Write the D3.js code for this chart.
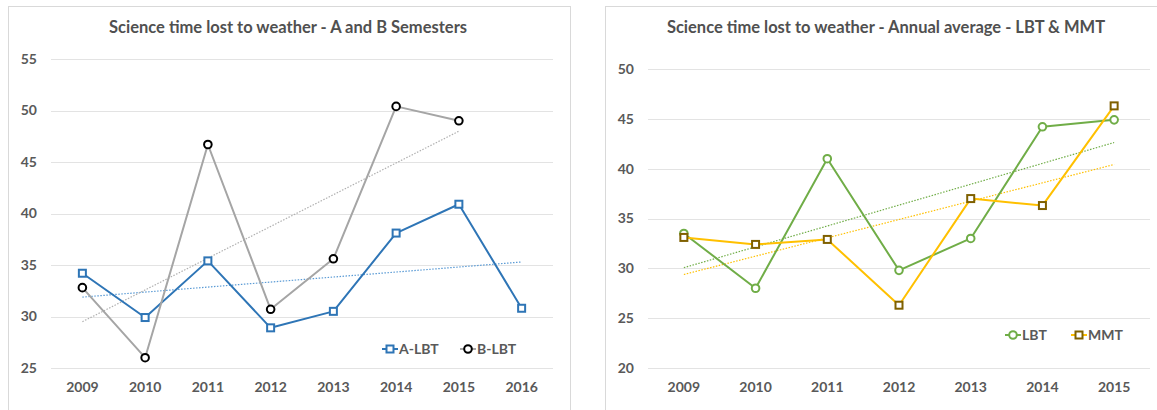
<!DOCTYPE html>
<html><head><meta charset="utf-8">
<script src="https://cdn.jsdelivr.net/npm/d3@7"></script>
<style>
html,body{margin:0;padding:0;background:#fff;}
svg text{font-family:Lato,"Open Sans",sans-serif;}
</style></head>
<body><svg id="c" width="1157" height="410"></svg>
<script>
// ---- data ----
const yearsLeft = ["2009","2010","2011","2012","2013","2014","2015","2016"];
const aLBT = [34.2, 29.9, 35.4, 28.9, 30.5, 38.1, 40.9, 30.8];
const bLBT = [32.8, 26.0, 46.7, 30.7, 35.6, 50.4, 49.0];
const ticksLeft = [25, 30, 35, 40, 45, 50, 55];

const yearsRight = ["2009","2010","2011","2012","2013","2014","2015"];
const lbtAnnual = [33.5, 28.0, 41.0, 29.8, 33.0, 44.2, 44.9];
const mmtAnnual = [33.1, 32.4, 32.9, 26.3, 37.0, 36.3, 46.3];
const ticksRight = [20, 25, 30, 35, 40, 45, 50];

const titleLeft = "Science time lost to weather - A and B Semesters";
const titleRight = "Science time lost to weather - Annual average - LBT & MMT";

const svg = d3.select("#c");
const TXT = "#595959";

function linreg(vals){
  const n = vals.length, mx = (n-1)/2, my = d3.mean(vals);
  let sxy=0, sxx=0;
  vals.forEach((v,i)=>{sxy+=(i-mx)*(v-my); sxx+=(i-mx)*(i-mx);});
  const b = sxy/sxx, a = my - b*mx;
  return [a, a + b*(n-1)];
}

function drawPanel(cfg){
  const g = svg.append("g");
  g.append("rect").attr("x",cfg.box[0]+0.5).attr("y",cfg.box[1]+0.5)
    .attr("width",cfg.box[2]).attr("height",cfg.box[3])
    .attr("fill","#fff").attr("stroke","#D9D9D9").attr("stroke-width",1);
  const x = d3.scaleBand().domain(cfg.cats).range([cfg.x0, cfg.x1]);
  const y = d3.scaleLinear().domain([cfg.ticks[0], cfg.ticks[cfg.ticks.length-1]]).range([cfg.yb, cfg.yt]);
  const cx = c => x(c) + x.bandwidth()/2;
  const yAxis = d3.axisLeft(y).tickValues(cfg.ticks).tickSize(-(cfg.x1-cfg.x0)).tickPadding(14);
  const ya = g.append("g").attr("transform",`translate(${cfg.x0},0)`).call(yAxis);
  ya.select(".domain").remove();
  ya.selectAll("line").attr("stroke","#E3E3E3").attr("shape-rendering","crispEdges");
  ya.selectAll("text").attr("fill",TXT).attr("font-size",14).attr("font-weight","bold")
    .attr("font-family","Lato");
  const xAxis = d3.axisBottom(x).tickSize(0).tickPadding(14);
  const xa = g.append("g").attr("transform",`translate(0,${cfg.yb})`).call(xAxis);
  xa.select(".domain").remove();
  xa.selectAll("text").attr("fill",TXT).attr("font-size",14).attr("font-weight","bold")
    .attr("font-family","Lato");
  g.append("text").attr("x",cfg.titleX).attr("y",cfg.titleY).attr("text-anchor","middle")
    .attr("fill","#505050").attr("font-size",16.5).attr("font-weight","bold").text(cfg.title);
  const line = d3.line().x((d,i)=>cx(cfg.cats[i])).y(d=>y(d));
  cfg.series.forEach(s=>{
    const n = s.values.length;
    const [a0,a1] = linreg(s.values);
    g.append("line").attr("x1",cx(cfg.cats[0])).attr("x2",cx(cfg.cats[n-1]))
      .attr("y1",y(a0)).attr("y2",y(a1))
      .attr("stroke",s.trend).attr("stroke-width",1.2).attr("stroke-dasharray","1.5,1.5");
  });
  cfg.series.forEach(s=>{
    g.append("path").datum(s.values).attr("d",line).attr("fill","none")
      .attr("stroke",s.line).attr("stroke-width",2).attr("stroke-linejoin","round");
  });
  cfg.series.forEach(s=>{
    const mk = g.append("g");
    s.values.forEach((v,i)=>drawMarker(mk, s.marker, cx(cfg.cats[i]), y(v), s.mstroke));
  });
  cfg.series.forEach((s,k)=>{
    const L = cfg.legend[k];
    g.append("line").attr("x1",L[0]).attr("x2",L[0]+16).attr("y1",L[1]).attr("y2",L[1])
      .attr("stroke",s.line).attr("stroke-width",2);
    drawMarker(g, s.marker, L[0]+8, L[1], s.mstroke);
    g.append("text").attr("x",L[0]+17).attr("y",L[1]).attr("dy","0.35em")
      .attr("fill",TXT).attr("font-size",14).attr("font-weight","bold").text(s.name);
  });
}

function drawMarker(g, type, px, py, stroke){
  if(type==="square"){
    g.append("rect").attr("x",px-3.5).attr("y",py-3.5).attr("width",7).attr("height",7)
      .attr("fill","#fff").attr("stroke",stroke).attr("stroke-width",2);
  } else {
    g.append("circle").attr("cx",px).attr("cy",py).attr("r",3.8)
      .attr("fill","#fff").attr("stroke",stroke).attr("stroke-width",2);
  }
}

drawPanel({
  box:[8,6,562,420], cats:yearsLeft, ticks:ticksLeft,
  x0:51, x1:553, yt:59, yb:368, titleX:288, titleY:33, title:titleLeft,
  series:[
    {name:"A-LBT", values:aLBT, line:"#2E75B6", mstroke:"#2E75B6", marker:"square", trend:"#5B9BD5"},
    {name:"B-LBT", values:bLBT, line:"#A5A5A5", mstroke:"#000000", marker:"circle", trend:"#B0B0B0"}
  ],
  legend:[[382,349],[460,349]]
});
drawPanel({
  box:[605,6,570,420], cats:yearsRight, ticks:ticksRight,
  x0:648, x1:1150, yt:69, yb:368, titleX:886, titleY:33, title:titleRight,
  series:[
    {name:"LBT", values:lbtAnnual, line:"#70AD47", mstroke:"#70AD47", marker:"circle", trend:"#70AD47"},
    {name:"MMT", values:mmtAnnual, line:"#FFC000", mstroke:"#7F6000", marker:"square", trend:"#FFC000"}
  ],
  legend:[[1005,335],[1071,335]]
});
</script></body></html>
